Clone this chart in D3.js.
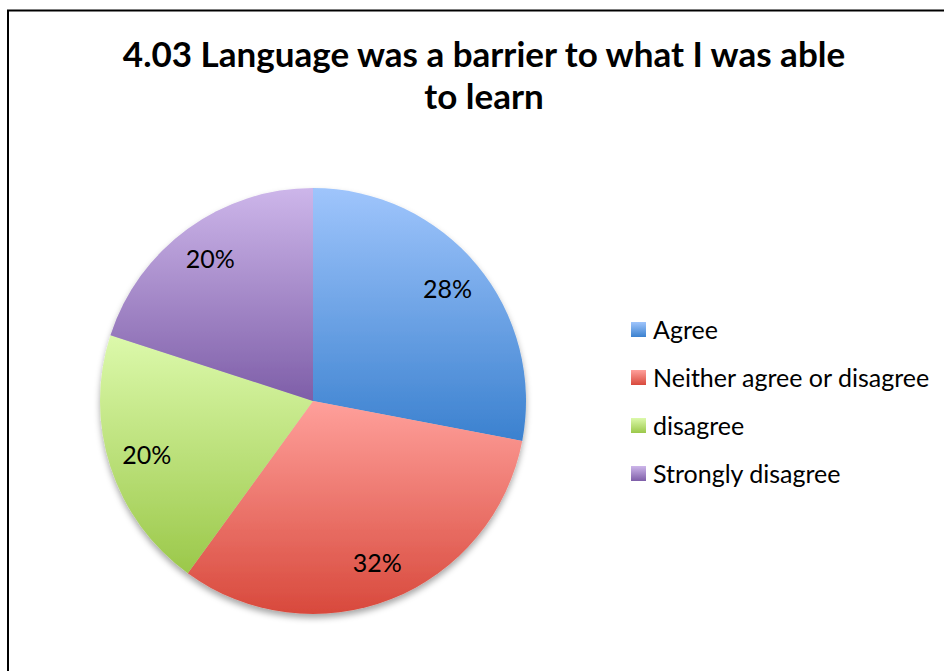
<!DOCTYPE html>
<html>
<head>
<meta charset="utf-8">
<script src="https://cdn.jsdelivr.net/npm/d3@7"></script>
<style>
  html, body { margin: 0; padding: 0; background: #fff; }
  svg { display: block; }
  text { font-family: Lato, "Open Sans", sans-serif; fill: #000; }
</style>
</head>
<body>
<svg id="chart" width="944" height="671"></svg>
<script>
// ---- data ----
const titleLines = ["4.03 Language was a barrier to what I was able", "to learn"];
const categories = ["Agree", "Neither agree or disagree", "disagree", "Strongly disagree"];
const values = [28, 32, 20, 20];
const colorsTop = ["#9fc5fc", "#ffa09b", "#dcf9ab", "#cdb6ea"];
const colorsBottom = ["#3b81cf", "#d8493c", "#9bc84a", "#7e5ea8"];

const svg = d3.select("#chart");
const W = 944, H = 671;

// frame
svg.append("rect").attr("x", 0).attr("y", 0).attr("width", W).attr("height", H).attr("fill", "#fff");
svg.append("path")
  .attr("d", `M8,${H} L8,10.5 L${W},10.5`)
  .attr("fill", "none").attr("stroke", "#000").attr("stroke-width", 2);

const defs = svg.append("defs");
categories.forEach((c, i) => {
  const g = defs.append("linearGradient")
    .attr("id", "grad" + i).attr("x1", 0).attr("y1", 0).attr("x2", 0).attr("y2", 1);
  g.append("stop").attr("offset", "0%").attr("stop-color", colorsTop[i]);
  g.append("stop").attr("offset", "100%").attr("stop-color", colorsBottom[i]);
});
const f = defs.append("filter").attr("id", "shadow")
  .attr("x", "-10%").attr("y", "-10%").attr("width", "120%").attr("height", "125%");
f.append("feDropShadow").attr("dx", 0).attr("dy", 4).attr("stdDeviation", 3)
  .attr("flood-color", "#000").attr("flood-opacity", 0.35);

// title
const title = svg.append("text").attr("text-anchor", "middle")
  .attr("font-weight", 700).attr("font-size", 35);
titleLines.forEach((t, i) => {
  title.append("tspan").attr("x", 484).attr("y", 67 + i * 42).text(t);
});

// pie
const cx = 313, cy = 401, R = 213;
const pie = d3.pie().sort(null).value(d => d)(values);
const arc = d3.arc().innerRadius(0).outerRadius(R);
const labelArc = d3.arc().innerRadius(R * 0.82).outerRadius(R * 0.82);
const total = d3.sum(values);

const pg = svg.append("g").attr("transform", `translate(${cx},${cy})`);
const sg = pg.append("g").attr("filter", "url(#shadow)");
sg.selectAll("path").data(pie).join("path")
  .attr("d", arc)
  .attr("fill", (d, i) => `url(#grad${i})`);

pg.selectAll("text.lbl").data(pie).join("text")
  .attr("class", "lbl")
  .attr("transform", d => `translate(${labelArc.centroid(d)})`)
  .attr("text-anchor", "middle")
  .attr("dy", "0.35em")
  .attr("font-size", 25)
  .text(d => Math.round(d.data / total * 100) + "%");

// legend
const lg = svg.append("g").attr("transform", "translate(631,322)");
const items = lg.selectAll("g").data(categories).join("g")
  .attr("transform", (d, i) => `translate(0,${i * 48})`);
items.append("rect").attr("width", 15).attr("height", 15)
  .attr("fill", (d, i) => `url(#grad${i})`);
items.append("text").attr("x", 22).attr("y", 7.5).attr("dy", "0.36em")
  .attr("font-size", 25).text(d => d);
</script>
</body>
</html>
